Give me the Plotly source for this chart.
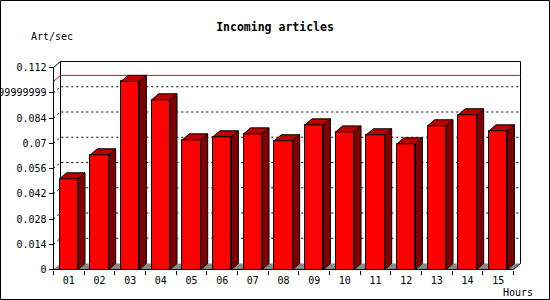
import plotly.graph_objects as go

# ---- data ----
hours = ["01", "02", "03", "04", "05", "06", "07", "08", "09", "10", "11", "12", "13", "14", "15"]
rate = [0.0503, 0.0636, 0.1043, 0.0941, 0.0719, 0.0736, 0.0752, 0.0714,
        0.0802, 0.0763, 0.0747, 0.0697, 0.0797, 0.0858, 0.0769]
ytick_vals = [0, 0.014, 0.028, 0.042, 0.056, 0.07, 0.084, 0.098, 0.112]
ytick_text = ["0", "0.014", "0.028", "0.042", "0.056", "0.07", "0.084",
              "0.09799999999999999", "0.112"]

# ---- geometry (pixels) ----
W, H = 550, 300
L, R, T, B = 51, 522, 59, 271
AX_X, AX_Y = 53.5, 269.5
FRONT_RIGHT = 513.5
Y_TOP_PX = 67.5
DEPTH_X, DEPTH_Y = 7, 6
BAR_W = 0.6

n = len(hours)
xs = list(range(n))
kx = (FRONT_RIGHT - AX_X) / n
ymax = ytick_vals[-1]
ky = (AX_Y - Y_TOP_PX) / ymax
xr = [-0.5 - (AX_X - L) / kx, -0.5 + (R - AX_X) / kx]
yr = [-(B - AX_Y) / ky, (AX_Y - T) / ky]
dx = DEPTH_X / kx
dy = DEPTH_Y / ky
x_lo, x_hi = -0.5, n - 0.5

FONT = "DejaVu Sans Mono"
RED, TOP, SIDE, FLOOR = "#ff0000", "#bb0000", "#800000", "#888888"

fig = go.Figure()

# front faces
fig.add_trace(go.Bar(x=xs, y=rate, width=BAR_W, marker=dict(color=RED, line=dict(color="black", width=1)),
                     hoverinfo="skip"))

# side and top faces
sx, sy, tx, ty = [], [], [], []
for i, v in zip(xs, rate):
    r = i + BAR_W / 2
    l = i - BAR_W / 2
    sx += [r, r, r + dx, r + dx, r, None]
    sy += [0, v, v + dy, dy, 0, None]
    tx += [l, l + dx, r + dx, r, l, None]
    ty += [v, v + dy, v + dy, v, v, None]
fig.add_trace(go.Scatter(x=sx, y=sy, mode="lines", fill="toself", fillcolor=SIDE,
                         line=dict(color="black", width=1), hoverinfo="skip"))
fig.add_trace(go.Scatter(x=tx, y=ty, mode="lines", fill="toself", fillcolor=TOP,
                         line=dict(color="black", width=1), hoverinfo="skip"))

shapes = []
# floor
shapes.append(dict(type="path", layer="below", xref="x", yref="y",
                   path=f"M {x_lo},0 L {x_hi},0 L {x_hi+dx},{dy} L {x_lo+dx},{dy} Z",
                   fillcolor=FLOOR, line=dict(width=0)))
# grid lines on back wall
for v in ytick_vals[1:-1]:
    shapes.append(dict(type="path", layer="below", xref="x", yref="y",
                       path=f"M {x_lo},{v} L {x_lo+dx},{v+dy} L {x_hi+dx},{v+dy}",
                       line=dict(color="black", width=1, dash="2px,3px")))
# back wall frame
shapes.append(dict(type="path", layer="below", xref="x", yref="y",
                   path=f"M {x_lo+dx},{dy} L {x_lo+dx},{ymax+dy} L {x_hi+dx},{ymax+dy} L {x_hi+dx},{dy}",
                   line=dict(color="black", width=1)))
shapes.append(dict(type="line", layer="below", xref="x", yref="y",
                   x0=x_lo, y0=ymax, x1=x_lo + dx, y1=ymax + dy, line=dict(color="black", width=1)))
# max line
m = max(rate)
shapes.append(dict(type="path", layer="below", xref="x", yref="y",
                   path=f"M {x_lo},{m} L {x_lo+dx},{m+dy} L {x_hi+dx},{m+dy}",
                   line=dict(color="#ff0000", width=1)))
# front axes
shapes.append(dict(type="line", layer="above", xref="x", yref="y",
                   x0=x_lo, y0=0, x1=x_lo, y1=ymax, line=dict(color="black", width=1)))
shapes.append(dict(type="path", layer="above", xref="x", yref="y",
                   path=f"M {x_lo},0 L {x_hi},0 L {x_hi+dx},{dy}",
                   line=dict(color="black", width=1)))
# outer border
pw, ph = R - L, B - T
shapes.append(dict(type="rect", xref="paper", yref="paper",
                   x0=(0.5 - L) / pw, x1=(W - 0.5 - L) / pw,
                   y0=(B - (H - 0.5)) / ph, y1=(B - 0.5) / ph,
                   line=dict(color="black", width=1), fillcolor="rgba(0,0,0,0)"))

annotations = [
    dict(text="Art/sec", xref="paper", yref="paper", x=(29 - L) / pw, y=(B - 37) / ph,
         xanchor="left", yanchor="middle", showarrow=False, font=dict(family=FONT, size=10, color="black")),
    dict(text="Hours", xref="paper", yref="paper", x=(535 - L) / pw, y=(B - 292) / ph,
         xanchor="right", yanchor="middle", showarrow=False, font=dict(family=FONT, size=10, color="black")),
]

fig.update_layout(
    template="none",
    width=W, height=H,
    margin=dict(l=L, r=W - R, t=T, b=H - B, pad=0),
    paper_bgcolor="white", plot_bgcolor="white",
    showlegend=False,
    title=dict(text="Incoming articles", x=0.5, xref="container", xanchor="center",
               y=1 - 27 / H, yref="container", yanchor="middle",
               font=dict(family=FONT, size=11.5, color="black", weight="bold")),
    xaxis=dict(range=xr, showgrid=False, zeroline=False, showline=False, automargin=False,
               anchor="free", position=(B - AX_Y) / ph,
               tickmode="array", tickvals=xs, ticktext=hours,
               ticks="outside", ticklen=1, tickcolor="rgba(0,0,0,0)",
               tickfont=dict(family=FONT, size=10, color="black"),
               minor=dict(tickmode="array", tickvals=[i - 0.5 for i in range(n + 1)],
                          ticks="outside", ticklen=4, tickcolor="black", tickwidth=1, showgrid=False)),
    yaxis=dict(range=yr, showgrid=False, zeroline=False, showline=False, automargin=False,
               anchor="free", position=(AX_X - L) / pw,
               tickmode="array", tickvals=ytick_vals, ticktext=ytick_text,
               ticks="outside", ticklen=5, tickcolor="black", tickwidth=1,
               tickfont=dict(family=FONT, size=10, color="black")),
    shapes=shapes,
    annotations=annotations,
    bargap=0,
)

fig.write_html("out.html")
